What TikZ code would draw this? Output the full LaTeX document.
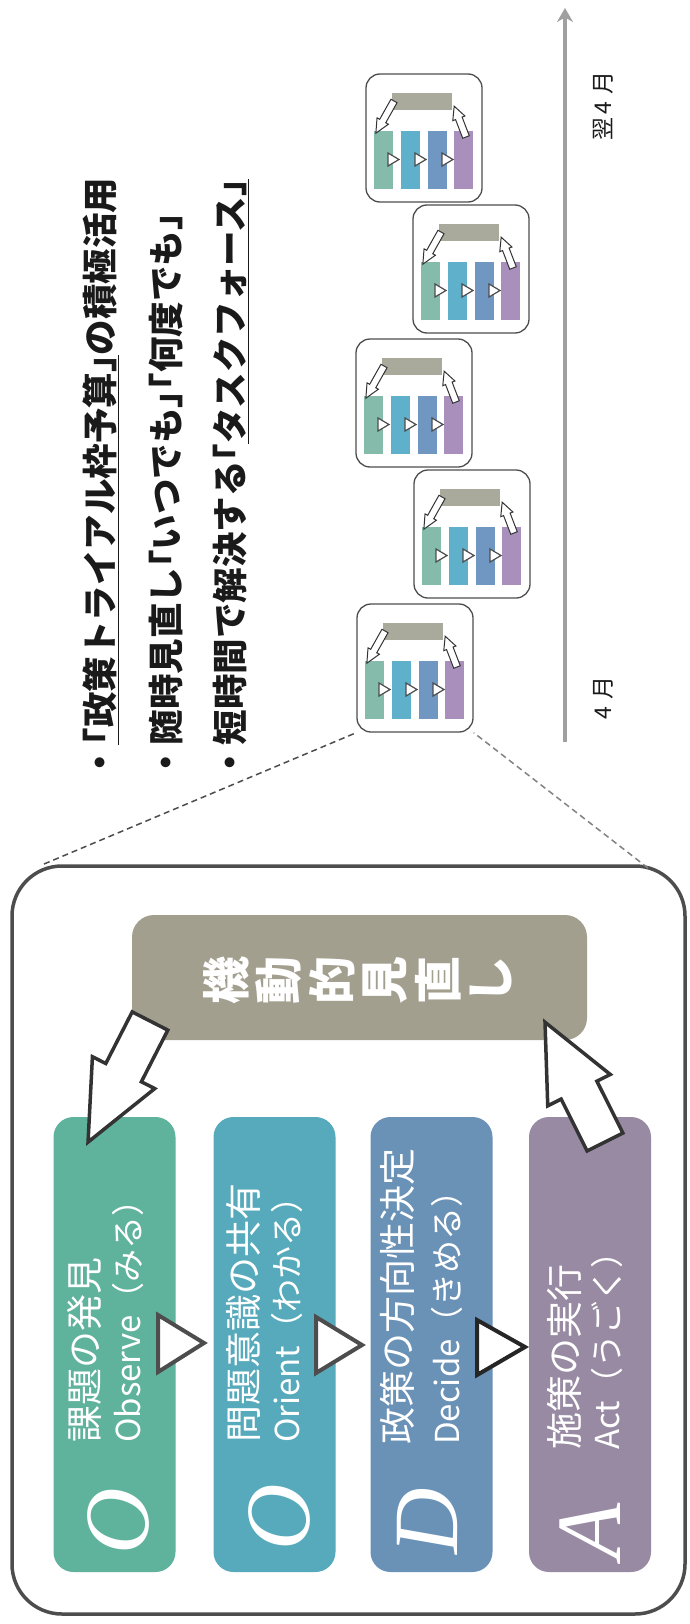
\documentclass[tikz,border=0pt]{standalone}
\usepackage{fontspec}
\setmainfont{Liberation Serif}
\newfontfamily\jp{Noto Sans CJK JP}
\usetikzlibrary{arrows.meta}
\definecolor{cO}{HTML}{5FB29C}
\definecolor{cR}{HTML}{57AABB}
\definecolor{cD}{HTML}{6A91B6}
\definecolor{cA}{HTML}{978AA2}
\definecolor{cG}{HTML}{A39F8F}
\definecolor{mO}{HTML}{84BBAA}
\definecolor{mR}{HTML}{5FB0CB}
\definecolor{mD}{HTML}{6F97C2}
\definecolor{mA}{HTML}{A98FBC}
\definecolor{mG}{HTML}{A9AA9C}
\definecolor{edge}{HTML}{4D4D4D}
\definecolor{arrowc}{HTML}{333333}
\definecolor{txt}{HTML}{1A1A1A}
\definecolor{tl}{HTML}{A0A0A0}
\newcommand\lbr{\hspace{-0.5em}「}
\newcommand\rbr{」\hspace{-0.5em}}
\tikzset{
  bigcol/.style={rounded corners=20pt, inner sep=0pt, minimum width=122pt, minimum height=455pt},
  minibox/.style={draw=edge, line width=1.3pt, rounded corners=14pt, minimum width=116pt, minimum height=128pt, inner sep=0pt},
  minitri/.style={draw=edge, fill=white, line width=1.2pt, line join=miter},
  bigtri/.style={draw=edge, fill=white, line width=4pt, line join=miter},
  bul/.style={rotate=90, anchor=west, inner sep=0pt, text=txt, font=\jp\bfseries\fontsize{35.5}{38}\selectfont},
  jpline/.style={rotate=90, anchor=west, inner sep=0pt, text=white, font=\jp\fontsize{37}{40}\selectfont},
  enline/.style={rotate=90, anchor=west, inner sep=0pt, text=white, font=\jp\fontsize{33}{36}\selectfont},
  bigletter/.style={rotate=90, inner sep=0pt, text=white, font=\fontsize{92}{96}\selectfont\itshape},
  kchar/.style={rotate=90, inner sep=0pt, text=white, font=\jp\bfseries\fontsize{48}{50}\selectfont},
  month/.style={rotate=90, inner sep=0pt, text=txt, font=\jp\fontsize{23}{25}\selectfont},
}
\newcommand\blockarr[8]{%
  \begin{scope}[shift={(#1,#2)},rotate=#3]
    \draw[line width=#8pt, draw=arrowc, fill=white, line join=miter]
      (0,{#5/2}) -- ({#4-#7},{#5/2}) -- ({#4-#7},{#6/2}) -- (#4,0) --
      ({#4-#7},{-#6/2}) -- ({#4-#7},{-#5/2}) -- (0,{-#5/2}) -- cycle;
  \end{scope}}
\newcommand\minicyc[3]{%
  \begin{scope}[shift={(#1,#2)}]
    \node[minibox] (#3) at (58,64) {};
    \fill[mG] (26,19) rectangle (86,36);
    \fill[mO] (8,57) rectangle (27,115);
    \fill[mR] (35,57) rectangle (54,115);
    \fill[mD] (62,57) rectangle (81,115);
    \fill[mA] (88,57) rectangle (107,115);
    \foreach \tx in {22,49,76}
      \draw[minitri] (\tx,79) -- (\tx,92) -- (\tx+11,85.5) -- cycle;
    \blockarr{28}{27}{-119.4}{37}{7}{13}{14}{1}
    \blockarr{100}{63}{111}{33}{7}{13}{13}{1}
  \end{scope}}
\begin{document}
\begin{tikzpicture}[x=1pt,y=-1pt]
\useasboundingbox (0,0) rectangle (689,1624);
\fill[white] (0,0) rectangle (689,1624);

% bullets
\node[bul] (l1) at (101,781) {・\underline{\lbr 政策トライアル枠予算\rbr}の積極活用};
\node[bul] (l2) at (166,781) {・随時見直し\lbr いつでも\rbr\lbr 何度でも\rbr};
\node[bul] (l3) at (231,781) {・短時間で解決する\lbr\underline{タスクフォース\rbr}};

% timeline
\coordinate (t0) at (565,742);
\coordinate (t1) at (565,8);
\draw[line width=4pt, tl, -{Stealth[length=14pt,width=16pt]}] (t0) -- (t1);
\node[month] (m4) at (603,698) {4\hspace{0.3em}月};
\node[month] (y4) at (603,106) {翌\hspace{0.15em}4\hspace{0.3em}月};

% mini cycles
\minicyc{357}{604}{c1}
\minicyc{414}{470}{c2}
\minicyc{356}{339}{c3}
\minicyc{413}{205}{c4}
\minicyc{366}{74}{c5}

% big box
\node[draw=edge, line width=3.5pt, rounded corners=50pt, minimum width=673pt, minimum height=748pt, inner sep=0pt] (big) at (348.5,1240) {};
\coordinate (dl) at (44,864);
\coordinate (dr) at (648,868);
\draw[edge, line width=1.5pt, dash pattern=on 6pt off 4pt] (dl) -- (c1.south west);
\draw[edge!70, line width=1.5pt, dash pattern=on 6pt off 4pt] (dr) -- (c1.south east);

% review box
\node[fill=cG, rounded corners=22pt, minimum width=455pt, minimum height=125pt, inner sep=0pt] (rev) at (359.5,977.5) {};
\foreach \c [count=\i] in {機,動,的,見,直,し}
  \node[kchar] (k\i) at ({226+(\i-1)*53},980) {\c};

% columns
\node[bigcol, fill=cO] (o1) at (114.5,1344.5) {};
\node[bigcol, fill=cR] (o2) at (274.5,1344.5) {};
\node[bigcol, fill=cD] (dd) at (431.5,1344.5) {};
\node[bigcol, fill=cA] (aa) at (590,1344.5) {};

\node[bigletter] (L1) at (118,1521) {O};
\node[bigletter] (L2) at (279,1517) {O};
\node[bigletter] (L3) at (427,1521) {D};
\node[bigletter] (L4) at (590,1531) {A};

\node[jpline] (j1) at (85,1443) {課題の発見};
\node[enline] (e1) at (128,1443) {Observe（みる）};
\node[jpline] (j2) at (244,1443) {問題意識の共有};
\node[enline] (e2) at (287,1443) {Orient（わかる）};
\node[jpline] (j3) at (397,1445) {政策の方向性決定};
\node[enline] (e3) at (447,1445) {Decide（きめる）};
\node[jpline] (j4) at (564,1450) {施策の実行};
\node[enline] (e4) at (607,1450) {Act（うごく）};

% triangles
\draw[bigtri] (158,1315) -- (158,1372) -- (204,1343) -- cycle;
\draw[bigtri] (316,1317) -- (316,1373) -- (362,1345) -- cycle;
\draw[bigtri, draw=black!85] (477,1320) -- (477,1375) -- (525,1347) -- cycle;

% block arrows
\blockarr{150}{1021}{-117.1}{136}{40}{70}{78}{3.5}
\blockarr{605}{1142}{116.6}{134}{40}{70}{76}{3.5}
\end{tikzpicture}
\end{document}
